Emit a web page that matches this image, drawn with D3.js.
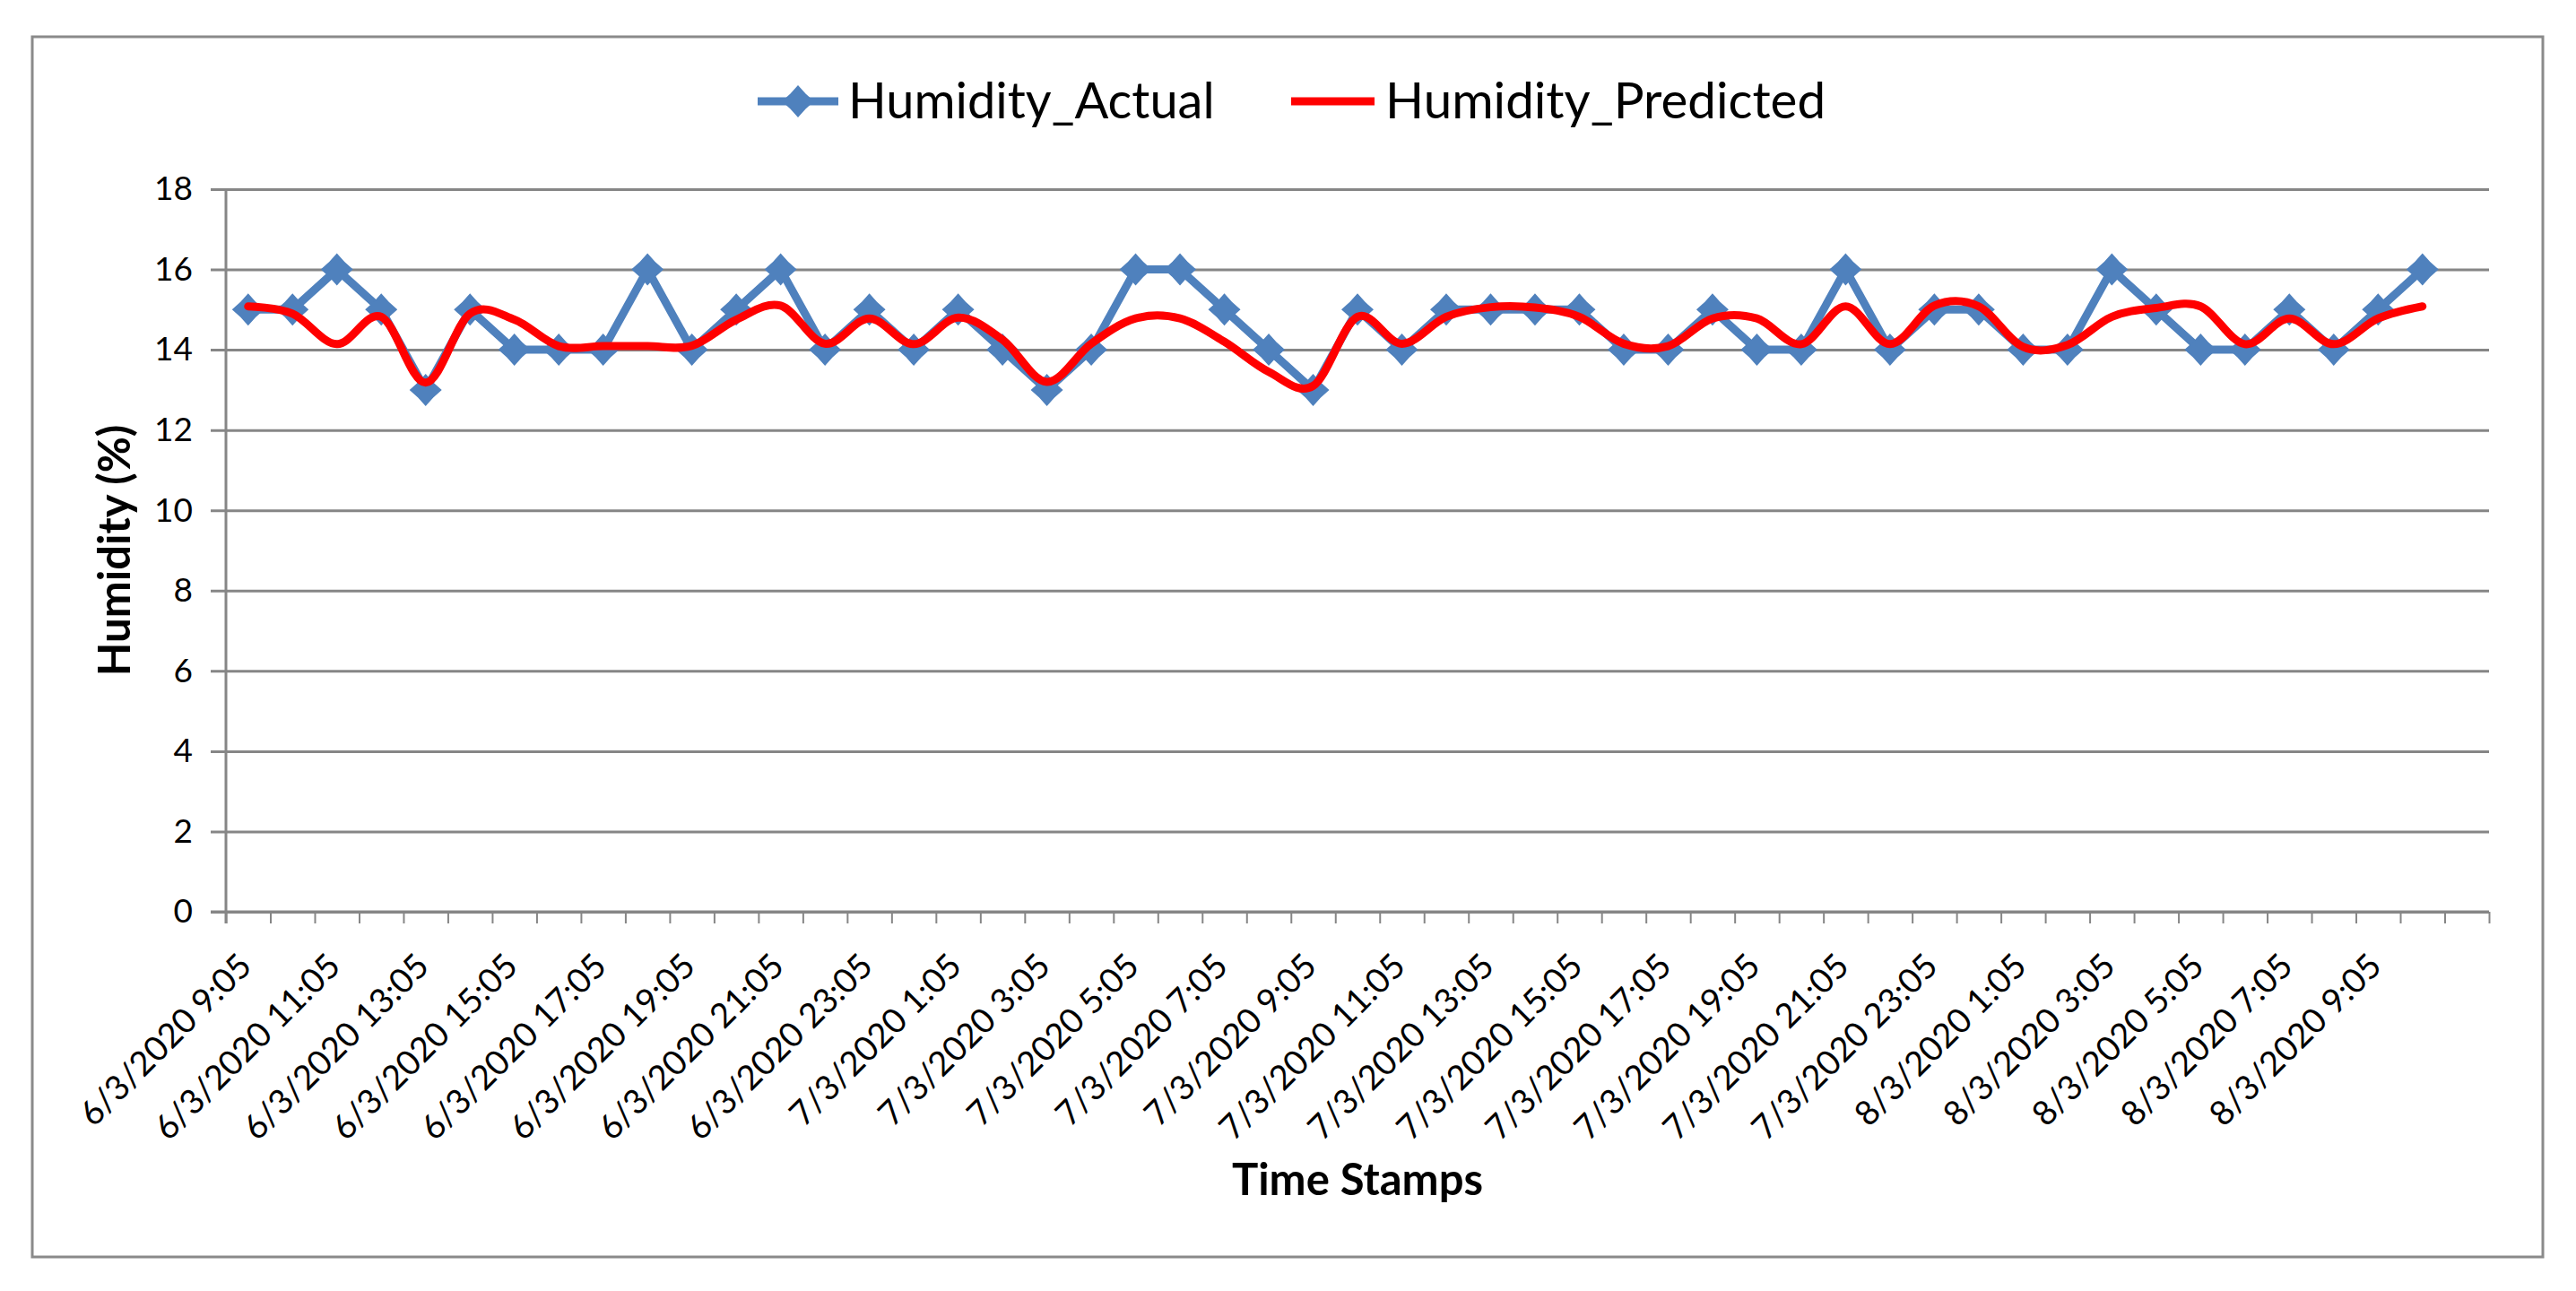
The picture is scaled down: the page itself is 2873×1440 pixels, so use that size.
<!DOCTYPE html>
<html>
<head>
<meta charset="utf-8">
<script src="https://cdn.jsdelivr.net/npm/d3@7/dist/d3.min.js"></script>
<style>
  html, body { margin: 0; padding: 0; background: #fff; }
  svg { display: block; }
  text { font-family: Lato, "Open Sans", sans-serif; fill: #000; }
</style>
</head>
<body>
<svg id="chart" width="2873" height="1440"></svg>
<script>
// ---- Data ----
const categories = [
  "6/3/2020 9:05", "6/3/2020 10:05", "6/3/2020 11:05", "6/3/2020 12:05", "6/3/2020 13:05",
  "6/3/2020 14:05", "6/3/2020 15:05", "6/3/2020 16:05", "6/3/2020 17:05", "6/3/2020 18:05",
  "6/3/2020 19:05", "6/3/2020 20:05", "6/3/2020 21:05", "6/3/2020 22:05", "6/3/2020 23:05",
  "7/3/2020 0:05", "7/3/2020 1:05", "7/3/2020 2:05", "7/3/2020 3:05", "7/3/2020 4:05",
  "7/3/2020 5:05", "7/3/2020 6:05", "7/3/2020 7:05", "7/3/2020 8:05", "7/3/2020 9:05",
  "7/3/2020 10:05", "7/3/2020 11:05", "7/3/2020 12:05", "7/3/2020 13:05", "7/3/2020 14:05",
  "7/3/2020 15:05", "7/3/2020 16:05", "7/3/2020 17:05", "7/3/2020 18:05", "7/3/2020 19:05",
  "7/3/2020 20:05", "7/3/2020 21:05", "7/3/2020 22:05", "7/3/2020 23:05", "8/3/2020 0:05",
  "8/3/2020 1:05", "8/3/2020 2:05", "8/3/2020 3:05", "8/3/2020 4:05", "8/3/2020 5:05",
  "8/3/2020 6:05", "8/3/2020 7:05", "8/3/2020 8:05", "8/3/2020 9:05", "8/3/2020 10:05",
  "" // trailing empty category slot
];

const humidityActual = [
  15, 15, 16, 15, 13, 15, 14, 14, 14, 16,
  14, 15, 16, 14, 15, 14, 15, 14, 13, 14,
  16, 16, 15, 14, 13, 15, 14, 15, 15, 15,
  15, 14, 14, 15, 14, 14, 16, 14, 15, 15,
  14, 14, 16, 15, 14, 14, 15, 14, 15, 16
];

const humidityPredicted = [
  15.08, 14.9, 14.14, 14.82, 13.18, 14.9, 14.75, 14.09, 14.09, 14.09,
  14.1, 14.75, 15.1, 14.15, 14.78, 14.14, 14.8, 14.25, 13.2, 14.15,
  14.78, 14.78, 14.2, 13.45, 13.1, 14.82, 14.15, 14.82, 15.06, 15.05,
  14.82, 14.15, 14.09, 14.78, 14.78, 14.14, 15.08, 14.14, 15.1, 15.08,
  14.07, 14.12, 14.82, 15.04, 15.08, 14.14, 14.78, 14.14, 14.78, 15.08
];

const yTicks = [0, 2, 4, 6, 8, 10, 12, 14, 16, 18];
const seriesNames = ["Humidity_Actual", "Humidity_Predicted"];
const xTitle = "Time Stamps";
const yTitle = "Humidity (%)";

// ---- Layout ----
const W = 2873, H = 1440;
const plot = { left: 252, right: 2776, top: 211, bottom: 1017 };
const blue = "#4F81BD", red = "#FF0000", gridColor = "#868686";

const svg = d3.select("#chart");
svg.append("rect").attr("width", W).attr("height", H).attr("fill", "#fff");

// outer border
svg.append("rect")
  .attr("x", 36).attr("y", 41).attr("width", 2800).attr("height", 1361)
  .attr("fill", "none").attr("stroke", "#8a8a8a").attr("stroke-width", 3);

const idx = d3.range(categories.length);
const xBand = d3.scaleBand().domain(idx).range([plot.left, plot.right]).padding(0);
const xEdge = d3.scaleLinear().domain([0, categories.length]).range([plot.left, plot.right]);
const y = d3.scaleLinear().domain([0, 18]).range([plot.bottom, plot.top]);
const cx = i => xBand(i) + xBand.bandwidth() / 2;

// gridlines
const grid = svg.append("g")
  .attr("transform", `translate(${plot.left - 17},0)`)
  .call(d3.axisLeft(y).tickValues(yTicks).tickSize(-(plot.right - plot.left + 17)).tickFormat(""));
grid.select(".domain").remove();
grid.selectAll("line").attr("stroke", gridColor).attr("stroke-width", 3);

// y labels
const yLab = svg.append("g")
  .attr("transform", `translate(${plot.left - 17},0)`)
  .call(d3.axisLeft(y).tickValues(yTicks).tickSize(0).tickPadding(20));
yLab.select(".domain").remove();
yLab.selectAll("text").attr("font-size", 37).attr("font-family", "Lato").attr("fill", "#000");

// x tick marks at category boundaries
const xTicksG = svg.append("g")
  .attr("transform", `translate(0,${plot.bottom})`)
  .call(d3.axisBottom(xEdge).tickValues(d3.range(categories.length + 1)).tickSize(13).tickFormat(""));
xTicksG.select(".domain").remove();
xTicksG.selectAll("line").attr("stroke", gridColor).attr("stroke-width", 2);

// y axis line
svg.append("line")
  .attr("x1", plot.left).attr("x2", plot.left)
  .attr("y1", plot.top).attr("y2", plot.bottom + 13)
  .attr("stroke", gridColor).attr("stroke-width", 3);

// x axis line (0 gridline on top)
svg.append("line")
  .attr("x1", plot.left - 17).attr("x2", plot.right)
  .attr("y1", plot.bottom).attr("y2", plot.bottom)
  .attr("stroke", gridColor).attr("stroke-width", 3);

// x labels (every other category)
const labelIdx = idx.filter(i => i % 2 === 0 && categories[i] !== "");
svg.append("g").selectAll("text")
  .data(labelIdx)
  .join("text")
  .attr("transform", i => `translate(${cx(i) + 6},${plot.bottom + 63}) rotate(-45)`)
  .attr("text-anchor", "end")
  .attr("font-size", 38)
  .text(i => categories[i]);

// lines
const lineStraight = d3.line().x((d, i) => cx(i)).y(d => y(d));
const lineSmooth = d3.line().x((d, i) => cx(i)).y(d => y(d)).curve(d3.curveCardinal.tension(0));

svg.append("path")
  .datum(humidityActual)
  .attr("d", lineStraight)
  .attr("fill", "none").attr("stroke", blue).attr("stroke-width", 9)
  .attr("stroke-linejoin", "round").attr("stroke-linecap", "round");

const starPath = (r, q) => `M0,${-r}L${q},${-q}L${r},0L${q},${q}L0,${r}L${-q},${q}L${-r},0L${-q},${-q}Z`;

svg.append("g").selectAll("path")
  .data(humidityActual)
  .join("path")
  .attr("transform", (d, i) => `translate(${cx(i)},${y(d)})`)
  .attr("d", starPath(18, 8.5))
  .attr("fill", blue);

svg.append("path")
  .datum(humidityPredicted)
  .attr("d", lineSmooth)
  .attr("fill", "none").attr("stroke", red).attr("stroke-width", 9)
  .attr("stroke-linejoin", "round").attr("stroke-linecap", "round");

// legend
const legY = 113;
const leg = svg.append("g");
leg.append("line").attr("x1", 845).attr("x2", 935).attr("y1", legY).attr("y2", legY)
  .attr("stroke", blue).attr("stroke-width", 9);
leg.append("path").attr("transform", `translate(890,${legY})`).attr("d", starPath(18, 8.5)).attr("fill", blue);
leg.append("text").attr("x", 946).attr("y", legY + 19).attr("font-size", 56).text(seriesNames[0]);
leg.append("line").attr("x1", 1440).attr("x2", 1533).attr("y1", legY).attr("y2", legY)
  .attr("stroke", red).attr("stroke-width", 9);
leg.append("text").attr("x", 1545).attr("y", legY + 19).attr("font-size", 56.5).text(seriesNames[1]);

// axis titles
svg.append("text")
  .attr("x", (plot.left + plot.right) / 2).attr("y", 1333)
  .attr("text-anchor", "middle").attr("font-weight", "bold").attr("font-size", 49)
  .text(xTitle);

svg.append("text")
  .attr("transform", `translate(145,${(plot.top + plot.bottom) / 2}) rotate(-90)`)
  .attr("text-anchor", "middle").attr("font-weight", "bold").attr("font-size", 49)
  .text(yTitle);
</script>
</body>
</html>
